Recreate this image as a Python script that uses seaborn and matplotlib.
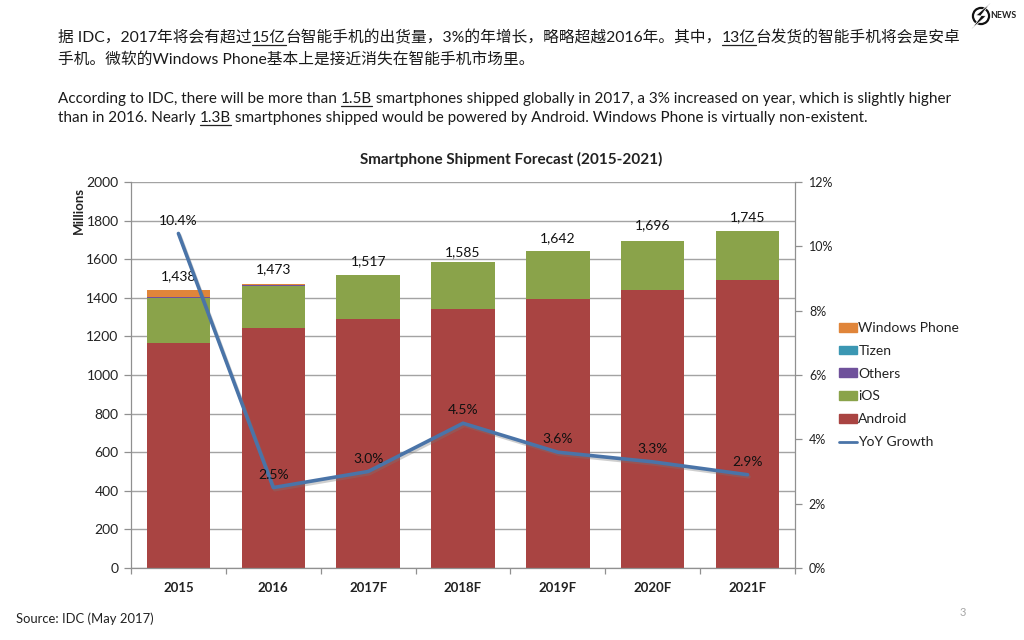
import numpy as np, pandas as pd
import matplotlib
matplotlib.use("Agg")
import matplotlib.pyplot as plt
import matplotlib.patheffects as pe
from matplotlib.lines import Line2D
from matplotlib.patches import Patch, Circle, Polygon
import seaborn as sns

years = ["2015", "2016", "2017F", "2018F", "2019F", "2020F", "2021F"]
android = [1168, 1245, 1290, 1342, 1395, 1443, 1490]
ios = [232, 217, 227, 243, 245, 251, 255]
others = [6, 2, 0, 0, 0, 0, 0]
tizen = [0, 0, 0, 0, 0, 0, 0]
windows = [32, 9, 0, 0, 2, 2, 0]
totals = ["1,438", "1,473", "1,517", "1,585", "1,642", "1,696", "1,745"]
growth = [10.4, 2.5, 3.0, 4.5, 3.6, 3.3, 2.9]
growth_labels = ["10.4%", "2.5%", "3.0%", "4.5%", "3.6%", "3.3%", "2.9%"]
total_values = [1438, 1473, 1517, 1585, 1642, 1696, 1745]
total_offsets = [6, 6, 6, 3, 5, 7, 6]

series = [("Android", android, "#A94442"), ("iOS", ios, "#8AA34A"), ("Others", others, "#6F519B"),
          ("Tizen", tizen, "#3B97B3"), ("Windows Phone", windows, "#E0853A")]

LAT = ["Lato", "Noto Sans CJK SC", "DejaVu Sans"]
sns.set_theme(style="white")
plt.rcParams["font.family"] = LAT
W, H = 1024, 640
fig = plt.figure(figsize=(W / 100, H / 100), dpi=100, facecolor="white")
L, R, T, B = 131, 795, 182, 568
ax = fig.add_axes([L / W, 1 - B / H, (R - L) / W, (B - T) / H])

base = np.zeros(len(years))
for name, vals, col in series:
    df = pd.DataFrame({"y": years, "v": vals})
    sns.barplot(data=df, x="y", y="v", ax=ax, color=col, saturation=1, width=0.67,
                bottom=base, order=years, zorder=2, linewidth=0)
    base = base + np.array(vals)

ax.set_xlim(-0.5, 6.5)
ax.set_ylim(0, 2000)
ax.set_yticks(range(0, 2001, 200))
ax.grid(axis="y", color="#A3A3A3", lw=1.0, zorder=0)
ax.set_axisbelow(True)
ax.set_xlabel("")
ax.set_ylabel("Millions", fontsize=9.5, fontweight="bold", color="#222222", labelpad=2)
ax.yaxis.set_label_coords(-0.07, 0.925)
ax.set_xticks(np.arange(7))
ax.set_xticklabels(years, fontsize=9.5, fontweight="bold", color="#222222")
ax.tick_params(axis="x", length=0, pad=10)
ax.set_xticks(np.arange(-0.5, 7), minor=True)
ax.tick_params(axis="x", which="minor", length=4, color="#909090", width=0.9, bottom=True)
ax.tick_params(axis="y", length=5, color="#909090", width=0.9, labelsize=10, labelcolor="#222222", pad=4, left=True)
for s in ["top", "right"]:
    ax.spines[s].set_visible(False)
for s in ["left", "bottom"]:
    ax.spines[s].set_color("#909090")
    ax.spines[s].set_linewidth(0.9)

for i, t in enumerate(totals):
    ax.annotate(t, (i, total_values[i]), xytext=(0, total_offsets[i]), textcoords="offset points",
                ha="center", va="bottom", fontsize=10, color="#111111", zorder=6)

ax2 = ax.twinx()
dfg = pd.DataFrame({"x": np.arange(7), "g": growth})
sns.lineplot(data=dfg, x="x", y="g", ax=ax2, color="#4A74A8", lw=2.6, zorder=5,
             path_effects=[pe.SimpleLineShadow(offset=(1, -1.5), shadow_color="#777777", alpha=0.35), pe.Normal()])
ax2.set_xlim(-0.5, 6.5)
ax2.set_ylim(0, 12)
ax2.set_yticks(range(0, 13, 2))
ax2.set_yticklabels([f"{v}%" for v in range(0, 13, 2)], fontsize=9, color="#222222")
ax2.set_ylabel("")
ax2.set_xlabel("")
ax2.tick_params(axis="y", length=5, color="#909090", width=0.9, pad=5, right=True)
for s in ["top", "left", "bottom"]:
    ax2.spines[s].set_visible(False)
ax2.spines["right"].set_color("#909090")
ax2.spines["right"].set_linewidth(0.9)
for i, t in enumerate(growth_labels):
    ax2.annotate(t, (i, growth[i]), xytext=(0, 5), textcoords="offset points", ha="center",
                 va="bottom", fontsize=10, color="#111111", zorder=7)

handles = [Patch(color=c, label=n) for n, _, c in reversed(series)] + [Line2D([], [], color="#4A74A8", lw=2, label="YoY Growth")]
fig.legend(handles=handles, loc="upper left", bbox_to_anchor=(839 / W, 1 - 322 / H), frameon=False,
           fontsize=10, labelspacing=0.78, handlelength=1.3, handleheight=0.6, handletextpad=0.1,
           borderpad=0, borderaxespad=0, labelcolor="#222222")

def px(x, y):
    return x / W, 1 - y / H

fig.text(*px(511, 159), "Smartphone Shipment Forecast (2015-2021)", ha="center", va="center",
         fontsize=11, fontweight="bold", color="#222222")

def para(x, y, parts, size):
    fig.canvas.draw()
    r = fig.canvas.get_renderer()
    for s, ul in parts:
        t = fig.text(*px(x, y), s, fontsize=size, color="#1A1A1A", va="baseline", ha="left")
        e = t.get_window_extent(r)
        adv = e.width
        if ul:
            fig.add_artist(Line2D([x / W, (x + adv) / W], [1 - (y + 3) / H] * 2, color="#222222", lw=0.9))
        x += adv

CN = 11.3
EN = 10.95
para(58, 42, [("据 IDC，2017年将会有超过", 0), ("15亿", 1), ("台智能手机的出货量，3%的年增长，略略超越2016年。其中，", 0), ("13亿", 1), ("台发货的智能手机将会是安卓", 0)], CN)
para(58, 64, [("手机。微软的Windows Phone基本上是接近消失在智能手机市场里。", 0)], CN)
para(58, 103, [("According to IDC, there will be more than ", 0), ("1.5B", 1), (" smartphones shipped globally in 2017, a 3% increased on year, which is slightly higher", 0)], EN)
para(58, 122, [("than in 2016. Nearly ", 0), ("1.3B", 1), (" smartphones shipped would be powered by Android. Windows Phone is virtually non-existent.", 0)], EN)

fig.text(*px(16, 619), "Source: IDC (May 2017)", fontsize=9.4, color="#222222", va="center")
fig.text(*px(963, 612), "3", fontsize=8, color="#A6A6A6", va="center", ha="center")

# logo
logo = fig.add_axes([968 / W, 1 - 29 / H, 26 / W, 26 / H]); logo.axis("off")
logo.set_xlim(0, 1); logo.set_ylim(0, 1)
logo.add_patch(Circle((.5, .5), .31, fill=False, ec="#111111", lw=1.6))
logo.add_patch(Polygon([(.86, 1.0), (.30, .52), (.50, .50), (.14, 0.0), (.70, .50), (.50, .52)], closed=True, fc="#111111", ec="white", lw=0.5, zorder=3))
fig.text(*px(1003, 15), "NEWS", fontsize=6.4, fontweight="bold", color="#222222", ha="center", va="center")

fig.savefig("out.png", dpi=100)
